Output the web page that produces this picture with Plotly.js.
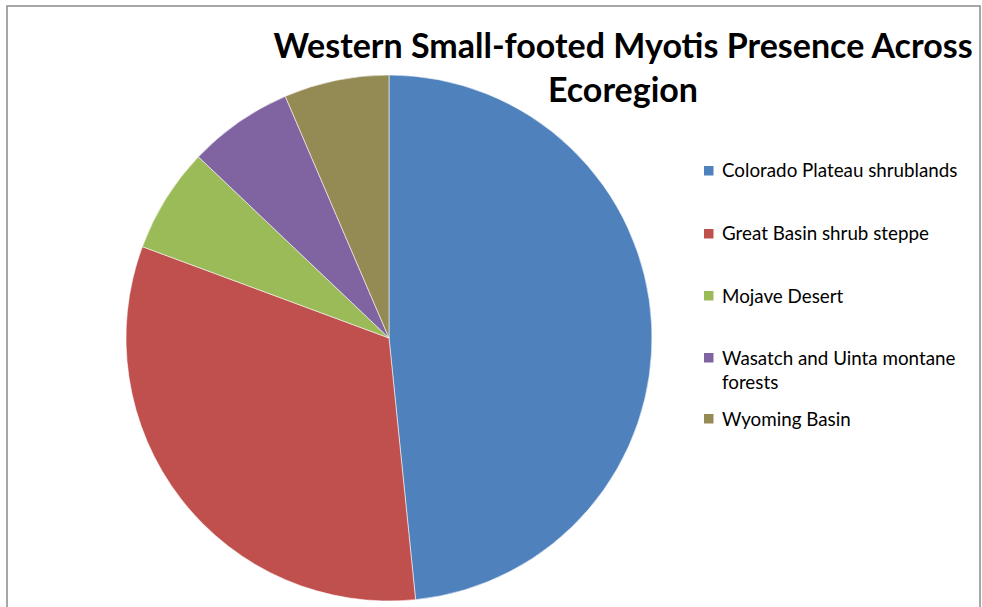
<!DOCTYPE html>
<html>
<head>
<meta charset="utf-8">
<script src="https://cdn.plot.ly/plotly-3.0.1.min.js"></script>
<style>html,body{margin:0;padding:0;background:#fff;}#chart{width:982px;height:607px;}</style>
</head>
<body>
<div id="chart"></div>
<script>
// Data
var labels = ["Colorado Plateau shrublands", "Great Basin shrub steppe", "Mojave Desert", "Wasatch and Uinta montane forests", "Wyoming Basin"];
var legendLabels = ["Colorado Plateau shrublands", "Great Basin shrub steppe", "Mojave Desert", "Wasatch and Uinta montane<br>forests", "Wyoming Basin"];
var values = [15, 10, 2, 2, 2];
var colors = ["#4F81BD", "#C0504D", "#9BBB59", "#8064A2", "#948A54"];
var titleText = "Western Small-footed Myotis Presence Across<br>Ecoregion";

var W = 982, H = 607;
function px(x){ return x / W; }
function py(y){ return 1 - y / H; }

var trace = {
  type: "pie",
  labels: labels,
  values: values,
  sort: false,
  direction: "clockwise",
  rotation: 0,
  textinfo: "none",
  hoverinfo: "label+value+percent",
  marker: { colors: colors, line: { color: "rgba(255,255,255,0.55)", width: 1 } },
  domain: { x: [px(126), px(652)], y: [py(601), py(75)] },
  showlegend: false
};

// Custom legend (Excel-style spacing) built from labels/colors
var legendY = [171, 234, 296, 358, 419];
var shapes = [];
var annotations = [];
for (var i = 0; i < labels.length; i++) {
  shapes.push({
    type: "rect", xref: "paper", yref: "paper",
    x0: px(704), x1: px(713.5), y0: py(legendY[i] + 4.5), y1: py(legendY[i] - 5),
    fillcolor: colors[i], line: { width: 0 }
  });
  annotations.push({
    xref: "paper", yref: "paper",
    x: px(720), y: py(legendY[i] - 14.5),
    xanchor: "left", yanchor: "top", align: "left",
    text: legendLabels[i], showarrow: false,
    font: { family: "Lato, 'Noto Sans', sans-serif", size: 18.8, color: "#000" }
  });
}
// chart border
shapes.push({
  type: "rect", xref: "paper", yref: "paper",
  x0: px(7), x1: px(980), y0: py(620), y1: py(6),
  line: { color: "#8a8a8a", width: 1.5 }, fillcolor: "rgba(0,0,0,0)"
});

var layout = {
  width: W, height: H,
  margin: { l: 0, r: 0, t: 0, b: 0 },
  paper_bgcolor: "#fff",
  title: {
    text: titleText,
    x: px(623), xanchor: "center", xref: "paper",
    y: py(58), yanchor: "top", yref: "paper",
    font: { family: "Lato, 'Noto Sans', sans-serif", size: 34, color: "#000", weight: 700 }
  },
  shapes: shapes,
  annotations: annotations,
  showlegend: false
};

Plotly.newPlot("chart", [trace], layout, { displayModeBar: false, staticPlot: true });
</script>
</body>
</html>
